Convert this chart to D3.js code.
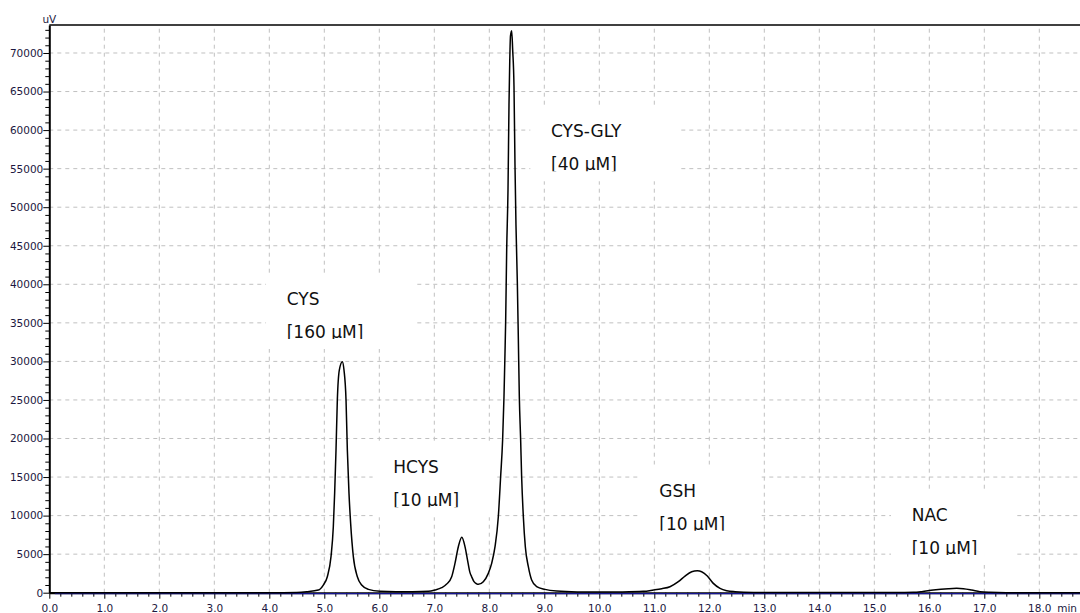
<!DOCTYPE html>
<html>
<head>
<meta charset="utf-8">
<script src="https://cdn.jsdelivr.net/npm/d3@7"></script>
<style>
body { margin: 0; background: #fff; }
svg { display: block; }
.grid line { stroke: #c0c0c0; stroke-width: 1; stroke-dasharray: 4,4; }
.axis text { font-family: "DejaVu Sans", sans-serif; font-size: 10.5px; fill: #1c1840; }
.axis line { stroke: #000; }
.peak-label { font-family: "DejaVu Sans", sans-serif; font-size: 17px; fill: #111; }
</style>
</head>
<body>
<script>
// chromatogram trace (time in min, signal in uV)
var times = [0.0, 4.0, 4.5, 4.68, 4.891, 4.982, 5.055, 5.122, 5.164, 5.188, 5.213, 5.237, 5.273, 5.328,
  5.358, 5.395, 5.419, 5.449, 5.479, 5.528, 5.601, 5.679, 5.801, 6.013, 6.3, 6.6, 6.89, 7.013, 7.134,
  7.225, 7.316, 7.376, 7.437, 7.5, 7.558, 7.6, 7.649, 7.679, 7.722, 7.77, 7.801, 7.891, 7.982, 8.043,
  8.104, 8.164, 8.206, 8.242, 8.267, 8.285, 8.297, 8.316, 8.34, 8.358, 8.372, 8.385, 8.407, 8.425,
  8.449, 8.467, 8.485, 8.51, 8.528, 8.546, 8.57, 8.588, 8.619, 8.655, 8.71, 8.77, 8.861, 9.013, 9.225,
  9.6, 10.0, 10.4, 10.8, 10.983, 11.134, 11.285, 11.437, 11.558, 11.68, 11.782, 11.861, 11.964, 12.073,
  12.195, 12.316, 12.467, 12.8, 13.5, 15.4, 15.71, 15.861, 16.073, 16.346, 16.497, 16.62, 16.77, 16.92,
  17.1, 17.4, 18.74];
var signal = [0, 0, 40, 130, 346, 994, 2075, 4670, 8560, 12880, 18500, 24990, 28880, 29960,
  28880, 24990, 18500, 12880, 8990, 4670, 2075, 994, 432, 173, 120, 130, 173, 346, 648,
  1124, 2075, 3804, 5966, 7180, 5966, 4400, 2600, 2075, 1427, 1150, 1081, 1427, 2507, 3804,
  5966, 9856, 15044, 19800, 25420, 31000, 35000, 44450, 52230, 63250, 69000, 72200, 72900, 70400,
  65640, 55470, 47690, 40130, 32900, 25420, 19800, 15044, 9856, 5966, 3372, 1643, 778, 432, 216,
  100, 80, 100, 173, 346, 519, 778, 1427, 2162, 2723, 2853, 2723, 2162, 1210,
  562, 259, 130, 40, 20, 20, 43, 130, 346, 519, 562, 519, 346, 130,
  43, 0, 0];

var peakNames = ["CYS", "HCYS", "CYS-GLY", "GSH", "NAC"];
var peakConc = ["[160 \u03bcM]", "[10 \u03bcM]", "[40 \u03bcM]", "[10 \u03bcM]", "[10 \u03bcM]"];
// where each label sits, in chart units (min, uV)
var labelTime = [4.317, 6.255, 9.122, 11.091, 15.68];
var labelLevel = [37315, 15486, 59066, 12451, 9300];
var labelBoxWidth = [149, 122, 149, 123, 124];

var xMajor = d3.range(0, 19);
var xMinor = d3.range(0, 94).filter(function(i) { return i % 5 != 0; }).map(function(i) { return i / 5; });
var yMajor = d3.range(0, 15).map(function(i) { return i * 5000; });
var yMinor = d3.range(0, 74).filter(function(i) { return i % 5 != 0; }).map(function(i) { return i * 1000; });

var width = 1080, height = 613;
var svg = d3.select("body").append("svg").attr("width", width).attr("height", height);

var x = d3.scaleLinear().domain([0, 18.74]).range([49.3, 1080]);
var y = d3.scaleLinear().domain([0, 73630]).range([592.7, 25]);

// grid
var grid = svg.append("g").attr("class", "grid");
grid.selectAll(".gx").data(xMajor.slice(1)).enter().append("line")
  .attr("x1", function(d) { return x(d); }).attr("x2", function(d) { return x(d); })
  .attr("y1", y(0)).attr("y2", y.range()[1]);
grid.selectAll(".gy").data(yMajor.slice(1)).enter().append("line")
  .attr("y1", function(d) { return y(d); }).attr("y2", function(d) { return y(d); })
  .attr("x1", x(0)).attr("x2", width);

// label boxes (white, hide the grid) + text
var labels = svg.append("g");
peakNames.forEach(function(name, i) {
  var lx = x(labelTime[i]), ly = y(labelLevel[i]);
  var top = ly - 32, bottom = ly + 33 + 11;
  labels.append("rect")
    .attr("x", lx - 20.7).attr("y", top)
    .attr("width", labelBoxWidth[i]).attr("height", bottom - top)
    .attr("fill", "#fff");
  labels.append("clipPath").attr("id", "clip" + i)
    .append("rect")
    .attr("x", lx - 20.7).attr("y", top)
    .attr("width", labelBoxWidth[i]).attr("height", ly + 33 + 1 - top);
  var t = labels.append("g").attr("clip-path", "url(#clip" + i + ")");
  t.append("text").attr("class", "peak-label").attr("x", lx).attr("y", ly).text(name);
  t.append("text").attr("class", "peak-label").attr("x", lx).attr("y", ly + 33).text(peakConc[i]);
});

// top frame
svg.append("line").attr("x1", x(0)).attr("x2", width).attr("y1", 25).attr("y2", 25)
  .attr("stroke", "#000").attr("stroke-width", 1.5);

// y axis
var yAxisMinor = svg.append("g").attr("class", "axis").attr("transform", "translate(" + x(0) + ",0)")
  .call(d3.axisLeft(y).tickValues(yMinor).tickSize(4).tickFormat(""));
yAxisMinor.select(".domain").remove();
var yAxis = svg.append("g").attr("class", "axis").attr("transform", "translate(" + x(0) + ",0)")
  .call(d3.axisLeft(y).tickValues(yMajor).tickSize(6).tickSizeOuter(0).tickPadding(0).tickFormat(d3.format("d")));
yAxis.select(".domain").attr("stroke-width", 2);
yAxis.selectAll("text").attr("font-family", null).attr("font-size", null);

// x axis
var xAxisMinor = svg.append("g").attr("class", "axis").attr("transform", "translate(0," + y(0) + ")")
  .call(d3.axisBottom(x).tickValues(xMinor).tickSize(4).tickFormat(""));
xAxisMinor.select(".domain").remove();
var xAxis = svg.append("g").attr("class", "axis").attr("transform", "translate(0," + y(0) + ")")
  .call(d3.axisBottom(x).tickValues(xMajor).tickSize(6).tickSizeOuter(0).tickFormat(d3.format(".1f")));
xAxis.select(".domain").attr("stroke-width", 2);
xAxis.selectAll("text").attr("y", 19.3).attr("dy", null);

// baseline of the other channel
svg.append("line").attr("x1", x(0.1)).attr("x2", width).attr("y1", y(0) + 1).attr("y2", y(0) + 1)
  .attr("stroke", "#1a1ab0").attr("stroke-width", 1);

// units
svg.append("text").attr("x", x(0)).attr("y", 23)
  .attr("text-anchor", "middle").style("font-family", "DejaVu Sans").style("font-size", "10.5px")
  .style("fill", "#1c1840").text("uV");
svg.append("text").attr("x", 1077).attr("y", 612).attr("text-anchor", "end")
  .style("font-family", "DejaVu Sans").style("font-size", "10.5px")
  .style("fill", "#1c1840").text("min");

// trace
var line = d3.line()
  .x(function(d, i) { return x(times[i]); })
  .y(function(d) { return y(d); })
  .curve(d3.curveMonotoneX);
svg.append("path").datum(signal)
  .attr("fill", "none").attr("stroke", "#000").attr("stroke-width", 1.5)
  .attr("d", line);
</script>
</body>
</html>
